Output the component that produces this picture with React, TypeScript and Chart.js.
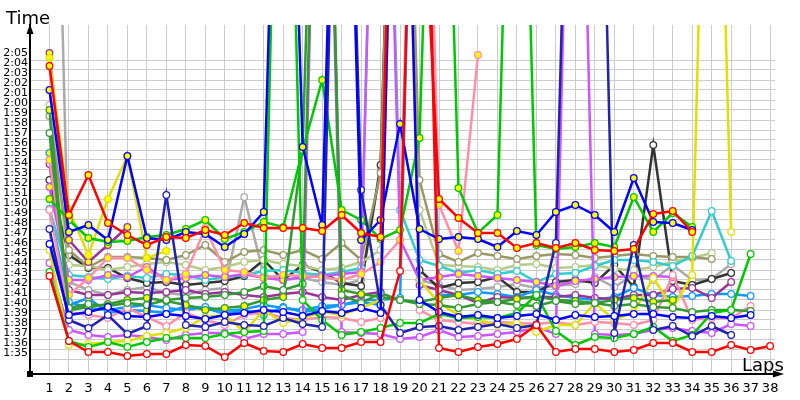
import React, { useEffect, useRef } from "react";
import { Chart, registerables } from "chart.js";
Chart.register(...registerables);

// Lap numbers (x categories)
const LAPS = [1,2,3,4,5,6,7,8,9,10,11,12,13,14,15,16,17,18,19,20,21,22,23,24,25,26,27,28,29,30,31,32,33,34,35,36,37,38];
// Y tick values in seconds (1:35 .. 2:05)
const Y_TICKS = [95,96,97,98,99,100,101,102,103,104,105,106,107,108,109,110,111,112,113,114,115,116,117,118,119,120,121,122,123,124,125];

// Lap times in seconds (values above the axis are pit / slow laps)
const RED_W = [103.4,96.9,95.8,95.8,95.4,95.6,95.6,96.5,96.4,95.3,96.7,95.9,95.8,96.6,96.2,96.2,96.8,96.8,103.9,180,96.2,95.8,96.3,96.6,97.1,98.5,95.8,96.1,96.1,95.8,96.0,96.7,96.7,95.8,95.8,96.5,96.0,96.4];
const RED_Y = [124.4,109.5,113.5,108.7,107.5,106.5,107.3,107.2,108.0,107.5,108.7,108.2,108.2,108.2,107.9,109.5,107.7,107.3,180,150,111.1,109.2,107.7,107.7,106.2,106.7,106.2,106.7,106.0,105.9,106.1,109.6,109.9,107.8,null,null,null,null];
const BLUE_Y = [122.0,107.8,108.5,107.0,115.4,107.2,107.0,107.8,107.6,106.3,107.6,109.8,180,116.3,108.5,180,107.0,109.0,118.6,108.1,107.1,107.3,107.1,106.3,107.9,107.5,109.8,110.5,109.5,107.8,113.2,108.8,108.7,108.0,null,null,null,null];
const GREEN_Y = [111.1,109.0,107.2,106.8,106.9,107.3,107.5,108.1,109.0,107.1,107.8,108.8,108.3,116.0,123.0,110.0,109.0,107.1,108.0,117.2,180,112.2,107.7,109.5,180,106.5,106.1,106.3,106.7,106.3,111.3,107.8,109.7,108.3,null,null,null,null];
const GREEN_W = [103.8,96.9,96.3,96.8,96.3,96.8,97.2,97.2,97.2,97.6,97.8,97.9,180,101.0,99.0,97.5,97.8,98.2,98.7,98.7,99.6,99.2,99.3,99.2,99.7,101.5,97.9,96.5,97.3,97.2,97.6,98.3,96.9,97.5,99.7,100.0,105.6,null];
const YELLOW_W = [106.0,96.5,96.6,96.8,96.9,97.4,97.7,98.2,99.3,99.5,97.8,100.0,98.7,99.2,99.8,99.5,100.2,101.0,180,103.0,100.7,99.5,99.0,98.5,98.7,97.8,98.5,98.5,100.7,99.0,99.8,103.2,100.2,103.5,180,107.8,null,null];
const YELLOW_Y = [125.2,110.0,105.5,111.1,115.4,105.2,105.9,null,null,null,null,null,null,null,null,null,null,null,null,null,null,null,null,null,null,null,null,null,null,null,null,null,null,null,null,null,null,null];
const NAVY_W = [108.1,99.0,98.2,99.5,97.6,98.4,111.5,98.5,98.3,98.8,98.5,98.4,99.2,98.6,98.3,180,112.0,100.5,97.7,98.3,98.4,98.0,98.3,98.6,98.2,98.5,106.7,180,180,97.7,106.5,98.0,98.4,97.4,98.4,97.5,null,null];
const BLUE_W = [106.6,99.5,99.8,100.3,99.4,99.3,99.6,99.4,99.1,99.5,99.7,100.0,99.8,99.4,99.9,99.7,100.2,99.7,180,101.0,99.8,99.3,99.5,99.2,99.4,99.6,99.0,99.5,99.3,99.4,99.6,99.6,99.3,99.2,99.4,99.2,99.5,null];
const VIOLET_W = [104.7,98.0,97.5,97.3,97.5,97.3,97.0,97.5,97.7,97.7,97.1,97.6,97.6,97.8,180,97.8,97.7,97.6,97.1,97.3,98.0,97.3,97.4,97.6,97.8,98.3,97.6,180,97.6,97.5,97.6,98.0,98.2,97.9,97.7,98.6,98.4,null];
const VIOLET_Y = [112.3,103.0,103.0,103.5,103.3,104.3,103.0,103.2,103.5,103.3,103.6,103.2,103.0,103.3,103.4,103.6,103.8,180,107.0,103.0,103.3,103.6,103.4,103.2,103.0,102.8,102.4,102.9,103.1,103.3,103.4,103.4,103.3,null,null,null,null,null];
const PURPLE_W = [114.6,102.0,101.5,101.5,101.8,101.7,101.8,102.0,101.6,101.8,101.5,101.3,101.6,101.8,101.3,101.0,101.5,101.8,180,102.5,102.0,101.5,100.7,101.3,101.2,101.3,101.3,101.5,101.2,101.1,101.5,101.5,102.1,102.2,101.2,102.8,null,null];
const PURPLE_Y = [125.7,107.0,104.8,106.5,108.3,null,null,null,null,null,null,null,null,null,null,null,null,null,null,null,null,null,null,null,null,null,null,null,null,null,null,null,null,null,null,null,null,null];
const CYAN_W = [110.1,103.5,103.3,103.1,103.4,103.2,103.6,103.5,103.0,103.3,103.5,103.9,104.0,103.7,103.5,103.8,104.2,180,110.0,105.0,104.4,103.7,104.0,103.6,103.9,102.8,103.6,103.7,104.4,105.0,105.0,104.8,104.4,105.4,109.9,104.9,null,null];
const LBLUE_W = [110.1,100.8,100.2,100.0,100.3,100.5,100.2,100.0,100.3,99.9,100.1,100.5,100.2,100.0,100.4,100.5,101.0,101.0,101.2,180,101.5,101.5,101.8,101.6,101.3,102.0,101.5,101.2,101.0,101.3,102.2,101.5,101.3,101.4,101.6,101.6,101.4,null];
const LBLUE_Y = [115.7,100.5,101.2,99.7,100.0,99.9,99.7,100.4,100.2,99.6,100.0,99.5,100.3,99.8,100.1,100.5,100.8,100.5,null,null,null,null,null,null,null,null,null,null,null,null,null,null,null,null,null,null,null,null];
const OLIVE_W = [119.4,106.0,104.3,105.3,105.3,105.2,105.0,105.5,106.5,104.8,105.8,106.0,105.5,106.0,105.1,106.7,105.0,113.7,180,113.0,105.6,104.8,105.7,105.4,105.1,105.4,105.6,105.5,105.2,105.4,105.6,105.4,105.3,105.3,105.1,null,null,null];
const LOLIVE_W = [120.5,104.5,104.4,104.0,104.3,104.6,104.8,104.5,104.0,104.3,104.8,105.0,104.6,104.4,104.0,104.2,104.8,106.0,180,110.0,104.5,104.4,104.3,104.0,104.5,104.6,104.2,104.3,104.5,104.1,104.0,104.3,104.8,105.2,105.7,null,null,null];
const DGRAY_W = [113.0,105.5,104.2,104.2,103.2,102.7,102.8,102.5,102.7,102.9,103.4,105.0,103.0,104.5,103.8,102.7,102.4,114.5,180,104.0,102.2,102.7,102.8,103.3,101.8,101.8,102.8,103.0,102.7,104.5,102.3,116.5,102.9,102.5,103.1,103.7,null,null];
const GRAY_W = [180,102.8,102.0,101.5,102.0,102.3,101.7,101.5,102.0,102.2,111.3,103.5,103.0,103.2,102.8,102.5,103.0,114.0,180,103.0,102.5,102.0,102.1,102.3,102.6,102.2,102.4,102.6,103.3,102.3,103.5,103.0,104.5,103.0,103.1,104.6,null,null];
const DGREEN_W = [117.7,100.2,100.6,100.4,100.7,100.5,101.0,101.2,101.3,101.5,101.8,102.4,102.0,102.6,180,101.5,100.7,101.7,101.0,100.6,100.5,100.2,100.6,100.8,100.5,100.4,100.9,100.6,100.7,100.4,100.6,100.3,100.2,99.8,100.0,100.0,99.9,null];
const DGREEN_Y = [120.0,100.0,100.3,100.6,101.0,101.2,100.9,100.5,100.0,100.2,100.4,101.0,101.3,116.3,180,102.0,101.6,101.3,101.0,100.8,101.2,101.5,101.0,100.8,101.1,101.4,101.0,100.9,100.7,101.0,101.2,100.8,101.0,null,null,null,null,null];
const PINK_Y = [115.0,101.5,103.2,105.2,105.2,104.0,103.0,103.6,108.2,104.0,103.8,103.2,103.5,103.4,103.3,103.0,103.6,104.8,107.0,180,110.5,105.9,125.5,null,null,null,null,null,null,null,null,null,null,null,null,null,null,null];
const PINK_W = [110.0,99.8,99.5,99.2,100.2,99.3,98.4,99.7,99.0,98.5,99.5,99.8,99.2,99.0,99.3,99.2,98.8,99.2,180,100.0,99.0,98.8,98.6,98.8,98.7,98.6,98.8,98.5,98.8,98.7,98.5,99.0,103.5,99.0,99.2,99.2,100.4,null];

const YEL = "#ffff00";
const WHT = "#ffffff";
const SERIES = [
  { data: RED_W, color: "#ff0000", fill: WHT },
  { data: RED_Y, color: "#ff0000", fill: YEL },
  { data: BLUE_Y, color: "#0000ff", fill: YEL },
  { data: BLUE_W, color: "#0000ff", fill: WHT },
  { data: NAVY_W, color: "#2222b0", fill: WHT },
  { data: GREEN_Y, color: "#00c800", fill: YEL },
  { data: GREEN_W, color: "#00c800", fill: WHT },
  { data: DGREEN_W, color: "#339933", fill: WHT },
  { data: DGREEN_Y, color: "#339933", fill: YEL },
  { data: YELLOW_W, color: "#e0e000", fill: WHT },
  { data: YELLOW_Y, color: "#e0e000", fill: YEL },
  { data: PINK_Y, color: "#ff8fa8", fill: YEL },
  { data: PINK_W, color: "#ff8fa8", fill: WHT },
  { data: VIOLET_W, color: "#cc55ff", fill: WHT },
  { data: VIOLET_Y, color: "#cc55ff", fill: YEL },
  { data: PURPLE_W, color: "#993399", fill: WHT },
  { data: PURPLE_Y, color: "#993399", fill: YEL },
  { data: CYAN_W, color: "#33cccc", fill: WHT },
  { data: LBLUE_W, color: "#1199ff", fill: WHT },
  { data: LBLUE_Y, color: "#1199ff", fill: YEL },
  { data: OLIVE_W, color: "#999966", fill: WHT },
  { data: LOLIVE_W, color: "#b4cc88", fill: WHT },
  { data: DGRAY_W, color: "#333333", fill: WHT },
  { data: GRAY_W, color: "#aaaaaa", fill: WHT },
];

function fmtTime(v: number): string {
  const m = Math.floor(v / 60);
  const s = Math.round(v - m * 60);
  return m + ":" + (s < 10 ? "0" + s : String(s));
}

const axisDecor = {
  id: "axisDecor",
  afterDraw(chart: any) {
    const { ctx, chartArea } = chart;
    const { left, top, bottom } = chartArea;
    ctx.save();
    ctx.fillStyle = "#000";
    ctx.strokeStyle = "#000";
    ctx.lineWidth = 2;
    ctx.beginPath();
    ctx.moveTo(left, bottom);
    ctx.lineTo(left, top + 4);
    ctx.stroke();
    ctx.beginPath();
    ctx.moveTo(left, top - 1);
    ctx.lineTo(left - 3.5, top + 9);
    ctx.lineTo(left + 3.5, top + 9);
    ctx.closePath();
    ctx.fill();
    ctx.beginPath();
    ctx.moveTo(left, bottom);
    ctx.lineTo(780, bottom);
    ctx.stroke();
    ctx.beginPath();
    ctx.moveTo(784, bottom);
    ctx.lineTo(773, bottom - 3.5);
    ctx.lineTo(773, bottom + 3.5);
    ctx.closePath();
    ctx.fill();
    ctx.fillRect(left - 3, bottom - 3, 6, 6);
    ctx.font = '18px "DejaVu Sans"';
    ctx.textBaseline = "alphabetic";
    ctx.textAlign = "left";
    ctx.fillText("Time", 6, 24);
    ctx.fillText("Laps", 742, 371);
    ctx.restore();
  },
};

export default function App() {
  const ref = useRef<HTMLCanvasElement>(null);
  useEffect(() => {
    if (!ref.current) return;
    const datasets = SERIES.map((s) => ({
      data: LAPS.map((lap, i) => ({ x: lap, y: s.data[i] })),
      borderColor: s.color,
      backgroundColor: s.color,
      pointBackgroundColor: s.fill,
      pointBorderColor: s.color,
      borderWidth: 2.5,
      pointRadius: 3.3,
      pointBorderWidth: 1.3,
      tension: 0,
      spanGaps: false,
    }));
    const chart = new Chart(ref.current, {
      type: "line",
      data: { datasets },
      options: {
        animation: false,
        responsive: false,
        devicePixelRatio: 1,
        layout: { padding: { top: 25, right: 25, left: 0, bottom: 0 } },
        plugins: { legend: { display: false }, tooltip: { enabled: false } },
        scales: {
          x: {
            type: "linear",
            min: 0,
            max: 38.25,
            afterFit: (s: any) => { s.height = 26; },
            afterBuildTicks: (s: any) => { s.ticks = LAPS.map((v) => ({ value: v })); },
            grid: { color: "#cccccc", lineWidth: 1, drawTicks: false },
            border: { color: "#000000", width: 2 },
            ticks: {
              autoSkip: false,
              maxRotation: 0,
              padding: 7,
              color: "#000000",
              font: { family: "DejaVu Sans", size: 13 },
              callback: (v: any) => String(v),
            },
          },
          y: {
            type: "linear",
            min: 93.6,
            max: 128.5,
            afterFit: (s: any) => { s.width = 30; },
            afterBuildTicks: (s: any) => { s.ticks = Y_TICKS.map((v) => ({ value: v })); },
            grid: { color: "#cccccc", lineWidth: 1, drawTicks: false },
            border: { color: "#000000", width: 2 },
            ticks: {
              autoSkip: false,
              padding: 2,
              labelOffset: -7,
              color: "#000000",
              font: { family: "DejaVu Sans", size: 11 },
              callback: (v: any) => fmtTime(Number(v)),
            },
          },
        },
      },
      plugins: [axisDecor],
    } as any);
    return () => chart.destroy();
  }, []);
  return (
    <div style={{ position: "absolute", left: 0, top: 0, width: 800, height: 400, background: "#fff" }}>
      <canvas ref={ref} width={800} height={400} />
    </div>
  );
}
